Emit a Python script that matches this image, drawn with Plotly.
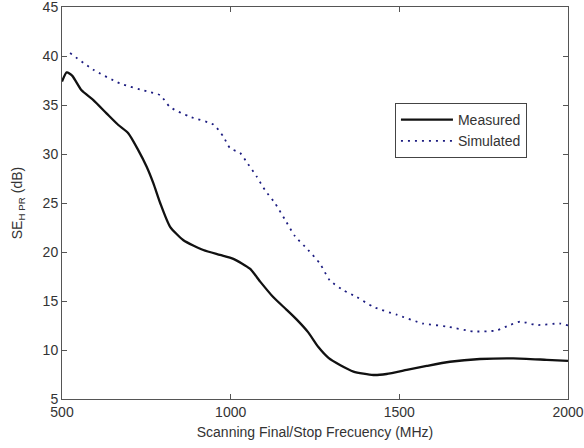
import plotly.graph_objects as go

meas_f = [500, 514, 530, 558, 593, 632, 667, 697, 726, 751, 771, 791, 820, 860, 919, 968, 1008,
          1057, 1087, 1126, 1166, 1196, 1230, 1260, 1290, 1324, 1364, 1423, 1462, 1522, 1581,
          1650, 1739, 1838, 1937, 2000]
meas_v = [37.4, 38.33, 38.0, 36.5, 35.5, 34.15, 32.96, 32.1, 30.4, 28.7, 27.0, 25.0, 22.6, 21.2,
          20.2, 19.7, 19.3, 18.3, 17.0, 15.4, 14.1, 13.1, 11.8, 10.3, 9.2, 8.47, 7.8, 7.45, 7.55,
          7.96, 8.37, 8.8, 9.08, 9.15, 9.0, 8.9]

sim_f = [524, 593, 672, 751, 791, 820, 879, 949, 978, 998, 1028, 1047, 1077, 1102, 1131, 1161,
         1191, 1230, 1265, 1294, 1334, 1374, 1423, 1492, 1571, 1640, 1719, 1788, 1828, 1858,
         1907, 1976, 2000]
sim_v = [40.3, 38.6, 37.2, 36.4, 36.0, 34.8, 33.8, 33.0, 31.8, 30.6, 30.1, 29.2, 27.7, 26.3,
         25.0, 23.3, 21.6, 20.2, 18.8, 17.1, 16.1, 15.4, 14.4, 13.6, 12.7, 12.4, 11.9, 12.0,
         12.55, 12.9, 12.55, 12.7, 12.5]

x_ticks = [500, 1000, 1500, 2000]
y_ticks = [5, 10, 15, 20, 25, 30, 35, 40, 45]

FONT = "Liberation Sans, Arial, sans-serif"

fig = go.Figure()
fig.add_trace(go.Scatter(x=meas_f, y=meas_v, mode="lines", name="Measured",
                         line=dict(color="#111111", width=2.3, shape="spline", smoothing=0.6)))
fig.add_trace(go.Scatter(x=sim_f, y=sim_v, mode="lines", name="Simulated",
                         line=dict(color="#1c1c80", width=1.8, dash="2px,5px", shape="spline", smoothing=0.6)))

axis_common = dict(showgrid=False, zeroline=False, showline=True, linecolor="#555555",
                   linewidth=1, mirror="ticks", ticks="inside", ticklen=5, tickcolor="#555555",
                   automargin=False, ticklabeloverflow="allow",
                   tickfont=dict(family=FONT, size=14, color="#333333"))

fig.update_layout(
    width=584, height=448,
    margin=dict(l=62, r=16, t=7, b=49, autoexpand=False),
    paper_bgcolor="white", plot_bgcolor="white",
    font=dict(family=FONT, size=14, color="#333333"),
    xaxis=dict(range=[500, 2000], tickvals=x_ticks, **axis_common,
               title=dict(text="Scanning Final/Stop Frecuency (MHz)", standoff=8,
                          font=dict(size=14, color="#333333"))),
    yaxis=dict(range=[5, 45], tickvals=y_ticks, **axis_common,
               title=dict(text="SE<sub>H PR</sub> (dB)", standoff=16,
                          font=dict(size=14, color="#333333"))),
    legend=dict(x=0.658, y=0.755, xanchor="left", yanchor="top",
                bordercolor="#444444", borderwidth=1, bgcolor="white", itemwidth=52,
                font=dict(size=14, color="#333333"), tracegroupgap=0),
    showlegend=True,
)

fig.write_html("out.html", config={"displayModeBar": False},
               post_script="document.body.style.margin='0';document.body.style.overflow='hidden';")
